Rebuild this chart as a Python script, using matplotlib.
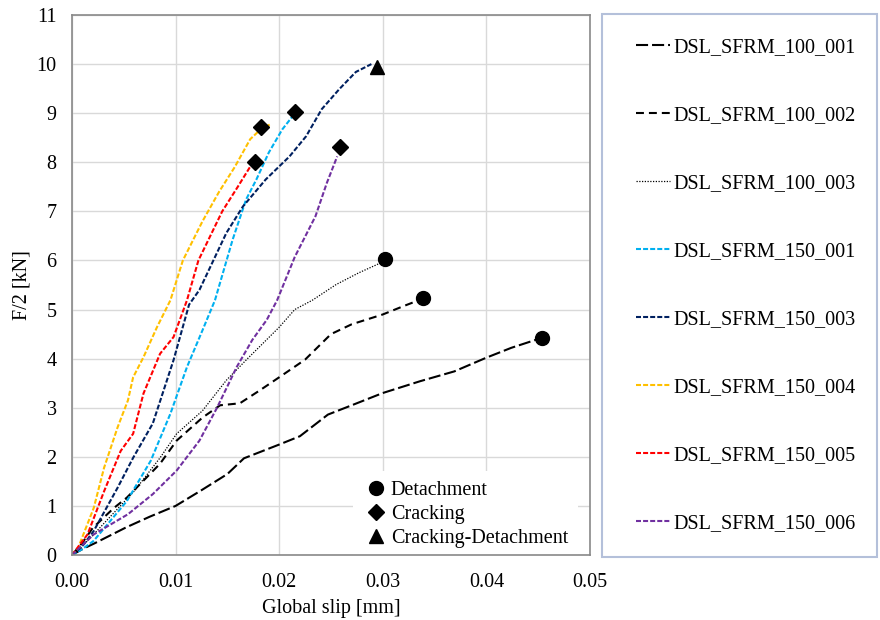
import numpy as np
import matplotlib
matplotlib.use("Agg")
import matplotlib.pyplot as plt
from matplotlib.patches import Rectangle
from matplotlib.ticker import FormatStrFormatter, MultipleLocator

plt.rcParams['font.family'] = ['Liberation Serif', 'DejaVu Serif']
FS = 14.5

# ── data ────────────────────────────────────────────────────────
x_100_001 = [0, 0.001, 0.0022, 0.0052, 0.0075, 0.010, 0.0125, 0.015, 0.0166, 0.020,
             0.022, 0.0247, 0.027, 0.030, 0.0336, 0.0369, 0.040, 0.0424, 0.0453]
y_100_001 = [0, 0.12, 0.24, 0.56, 0.78, 1.00, 1.32, 1.65, 1.97, 2.25,
             2.42, 2.86, 3.05, 3.30, 3.54, 3.74, 4.02, 4.22, 4.42]

x_100_002 = [0, 0.001, 0.002, 0.004, 0.0053, 0.0085, 0.0101, 0.0126, 0.0143, 0.0162,
             0.0181, 0.020, 0.0225, 0.025, 0.027, 0.030, 0.032, 0.0336]
y_100_002 = [0, 0.25, 0.55, 0.95, 1.17, 1.86, 2.33, 2.80, 3.05, 3.09,
             3.35, 3.62, 3.98, 4.50, 4.70, 4.90, 5.07, 5.20]

x_100_003 = [0, 0.001, 0.002, 0.004, 0.006, 0.0085, 0.0101, 0.0126, 0.0149, 0.0168,
             0.020, 0.0215, 0.0232, 0.0255, 0.0277, 0.0300]
y_100_003 = [0, 0.18, 0.40, 0.85, 1.30, 1.98, 2.47, 2.94, 3.56, 3.97,
             4.64, 5.00, 5.19, 5.51, 5.75, 5.97]

x_150_001 = [0, 0.001, 0.0021, 0.0053, 0.0076, 0.0095, 0.0111, 0.0126, 0.0138, 0.0155,
             0.0168, 0.0178, 0.019, 0.0203, 0.0213]
y_150_001 = [0, 0.12, 0.29, 1.10, 1.92, 2.88, 3.83, 4.58, 5.19, 6.42,
             7.24, 7.65, 8.20, 8.67, 8.94]

x_150_003 = [0, 0.001, 0.0021, 0.0044, 0.0059, 0.0078, 0.0098, 0.0113, 0.0123, 0.0149,
             0.0165, 0.0187, 0.021, 0.0226, 0.0241, 0.0258, 0.0274, 0.0289]
y_150_003 = [0, 0.18, 0.49, 1.37, 1.98, 2.68, 3.97, 5.10, 5.40, 6.56,
             7.10, 7.65, 8.12, 8.53, 9.08, 9.49, 9.84, 10.0]

x_150_004 = [0, 0.0006, 0.0021, 0.0031, 0.0044, 0.0054, 0.0059, 0.0069, 0.0082, 0.0095,
             0.0107, 0.0126, 0.0142, 0.0157, 0.0172, 0.0182, 0.0191]
y_150_004 = [0, 0.15, 0.96, 1.78, 2.60, 3.15, 3.62, 4.03, 4.64, 5.19,
             6.00, 6.80, 7.40, 7.90, 8.47, 8.67, 8.77]

x_150_005 = [0, 0.0015, 0.0031, 0.0047, 0.0059, 0.0069, 0.0085, 0.0098, 0.0111, 0.0122,
             0.0145, 0.016, 0.0172, 0.0179]
y_150_005 = [0, 0.42, 1.30, 2.12, 2.47, 3.29, 4.10, 4.44, 5.19, 6.00,
             7.00, 7.50, 7.91, 8.04]

x_150_006 = [0, 0.0021, 0.0054, 0.0078, 0.0101, 0.0123, 0.014, 0.0159, 0.0174, 0.0188,
             0.0198, 0.0215, 0.0235, 0.0246, 0.0256]
y_150_006 = [0, 0.42, 0.83, 1.24, 1.72, 2.33, 3.00, 3.83, 4.38, 4.79,
             5.19, 6.07, 6.90, 7.58, 8.12]

# failure-mode markers
x_detach = [0.0302, 0.0339, 0.0454]
y_detach = [6.03, 5.23, 4.43]
x_crack = [0.0182, 0.0177, 0.0215, 0.0259]
y_crack = [8.72, 8.00, 9.03, 8.31]
x_crackdet = [0.0294]
y_crackdet = [9.95]

SERIES = [
    ("DSL_SFRM_100_001", x_100_001, y_100_001, '#000000', (0, (5.8, 1.9)), 1.5),
    ("DSL_SFRM_100_002", x_100_002, y_100_002, '#000000', (0, (3.8, 2.4)), 1.5),
    ("DSL_SFRM_100_003", x_100_003, y_100_003, '#000000', (0, (1, 1.2)), 0.9),
    ("DSL_SFRM_150_001", x_150_001, y_150_001, '#00B0F0', (0, (2.4, 1.0)), 1.5),
    ("DSL_SFRM_150_003", x_150_003, y_150_003, '#002060', (0, (2.4, 1.0)), 1.5),
    ("DSL_SFRM_150_004", x_150_004, y_150_004, '#FFC000', (0, (2.4, 1.0)), 1.5),
    ("DSL_SFRM_150_005", x_150_005, y_150_005, '#FF0000', (0, (2.4, 1.0)), 1.5),
    ("DSL_SFRM_150_006", x_150_006, y_150_006, '#7030A0', (0, (2.4, 1.0)), 1.5),
]

# ── figure ──────────────────────────────────────────────────────
fig = plt.figure(figsize=(8.8, 6.2), dpi=100)
ax = fig.add_axes([72 / 880, 1 - 555 / 620, 518 / 880, 540 / 620])

handles = []
for name, xs, ys, col, ls, lw in SERIES:
    h, = ax.plot(xs, ys, color=col, linestyle=ls, linewidth=lw, label=name)
    handles.append(h)

m_det, = ax.plot(x_detach, y_detach, 'o', color='black', markersize=10, linestyle='none')
m_crk, = ax.plot(x_crack, y_crack, 'D', color='black', markersize=8, linestyle='none')
m_cd, = ax.plot(x_crackdet, y_crackdet, '^', color='black', markersize=10, linestyle='none')

ax.set_xlim(0, 0.05)
ax.set_ylim(0, 11)
ax.xaxis.set_major_locator(MultipleLocator(0.01))
ax.yaxis.set_major_locator(MultipleLocator(1))
ax.xaxis.set_major_formatter(FormatStrFormatter('%.2f'))
ax.grid(True, color='#d9d9d9', linewidth=1.0)
ax.set_axisbelow(True)
ax.tick_params(axis='both', length=0, labelsize=FS)
ax.tick_params(axis='x', pad=13)
ax.tick_params(axis='y', pad=11)
for sp in ax.spines.values():
    sp.set_color('#898989')
    sp.set_linewidth(1.2)

ax.set_xlabel("Global slip [mm]", fontsize=FS, labelpad=5)
ax.set_ylabel("F/2 [kN]", fontsize=FS, labelpad=4)

leg_in = ax.legend([m_det, m_crk, m_cd], ["Detachment", "Cracking", "Cracking-Detachment"],
                   loc='lower right', bbox_to_anchor=(1 - 12 / 518, -3 / 540), fontsize=FS,
                   frameon=True, fancybox=False, framealpha=1, edgecolor='none',
                   borderaxespad=0, borderpad=0.5, labelspacing=0.25,
                   handletextpad=0.15, handlelength=1.2)
leg_in.get_frame().set_facecolor('white')
leg_in.set_zorder(2.4)

# ── external legend panel ───────────────────────────────────────
fig.patches.append(Rectangle((602 / 880, 1 - 557 / 620), 275 / 880, 543 / 620,
                             transform=fig.transFigure, fill=False,
                             edgecolor='#b4c0da', linewidth=1.5))
fig.legend(handles, [h.get_label() for h in handles], loc='upper left',
           bbox_to_anchor=(636 / 880, 1 - 38 / 620), fontsize=FS, frameon=False,
           borderpad=0, borderaxespad=0, labelspacing=2.43,
           handlelength=1.7, handletextpad=0.15)

fig.savefig("out.png", dpi=100)
